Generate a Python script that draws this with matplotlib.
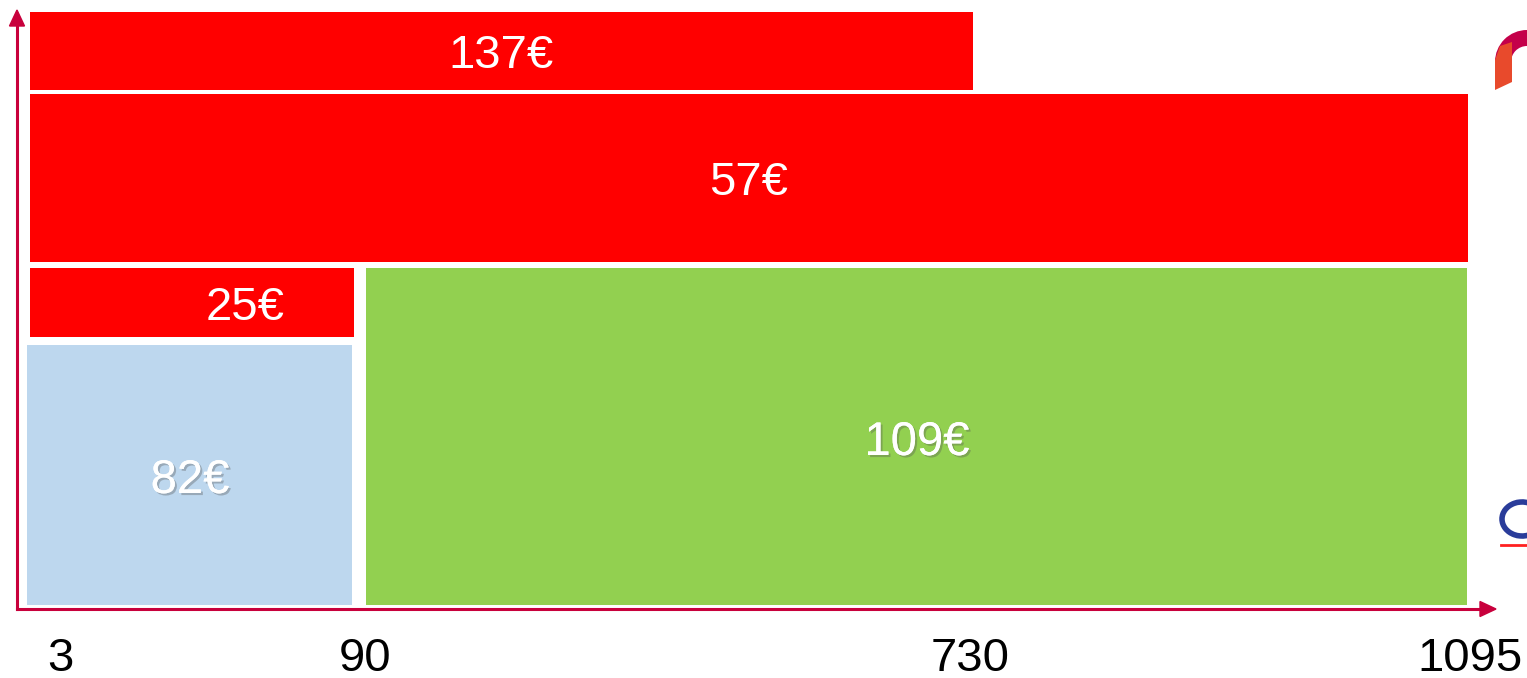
import matplotlib as mpl
import matplotlib.pyplot as plt
import matplotlib.patheffects as pe
from matplotlib.patches import Rectangle, FancyArrow, Wedge, Polygon, Arc

mpl.rcParams['font.family'] = ['Liberation Sans', 'DejaVu Sans']

# data: cost per period (EUR) and the day breakpoints on the x axis
AMOUNTS = ['137€', '57€', '25€', '82€', '109€']
DAYS = [3, 90, 730, 1095]

# layout (pixel space of the slide): x0, x1, y_top, y_bottom, label x, label y
BOXES = [
    (30, 973, 12, 90, 501, 53),
    (30, 1468, 94, 262, 749, 180),
    (30, 354, 268, 337, 245, 305),
    (27, 352, 345, 605, 190, 478),
    (366, 1467, 268, 605, 917, 440),
]
COLORS = ['#FF0000', '#FF0000', '#FF0000', '#BDD7EE', '#92D050']
SHADOW = [False, False, False, True, True]
DAY_X = [60, 365, 970, 1470]
AXIS_C = '#C8003C'

W, H = 1527, 678
fig = plt.figure(figsize=(W / 100, H / 100), dpi=100)
ax = fig.add_axes([0, 0, 1, 1])
ax.set_xlim(0, W)
ax.set_ylim(H, 0)
ax.axis('off')

for (x0, x1, yt, yb, tx, ty), lab, c, sh in zip(BOXES, AMOUNTS, COLORS, SHADOW):
    ax.add_patch(Rectangle((x0, yt), x1 - x0, yb - yt, fc=c, ec='none', zorder=2))
    t = ax.text(tx, ty + 3, lab, ha='center', va='center', color='white',
                fontsize=34, zorder=4)
    if sh:
        t.set_path_effects([pe.withSimplePatchShadow(offset=(1.5, -1.5),
                                                     shadow_rgbFace='#555555',
                                                     alpha=0.35),
                            pe.Normal()])

# axes with arrow heads
ax.plot([17, 17], [609, 22], color=AXIS_C, lw=2.2, zorder=3)
ax.plot([17, 1482], [609, 609], color=AXIS_C, lw=2.2, zorder=3)
ax.add_patch(FancyArrow(17, 26, 0, -16, width=0, head_width=15, head_length=16,
                        length_includes_head=True, color=AXIS_C, zorder=3))
ax.add_patch(FancyArrow(1479, 609, 17, 0, width=0, head_width=15, head_length=16,
                        length_includes_head=True, color=AXIS_C, zorder=3))

for d, x in zip(DAYS, DAY_X):
    ax.text(x, 659, str(d), ha='center', va='center', color='black', fontsize=34)

# partial logos cut by the right edge
ax.add_patch(Wedge((1527, 62), 32, 180, 270, width=16, fc='#C4004A', ec='none', zorder=2))
ax.add_patch(Polygon([(1495, 60), (1500, 46), (1512, 42), (1512, 82), (1495, 90)],
                     closed=True, fc='#E84A2C', ec='none', zorder=3))
ax.add_patch(Arc((1522, 519), 40, 34, theta1=40, theta2=320, color='#2A3C9A', lw=4))
ax.plot([1501, 1527], [545, 545], color='#FF2020', lw=2)

fig.savefig('out.png', dpi=100)
